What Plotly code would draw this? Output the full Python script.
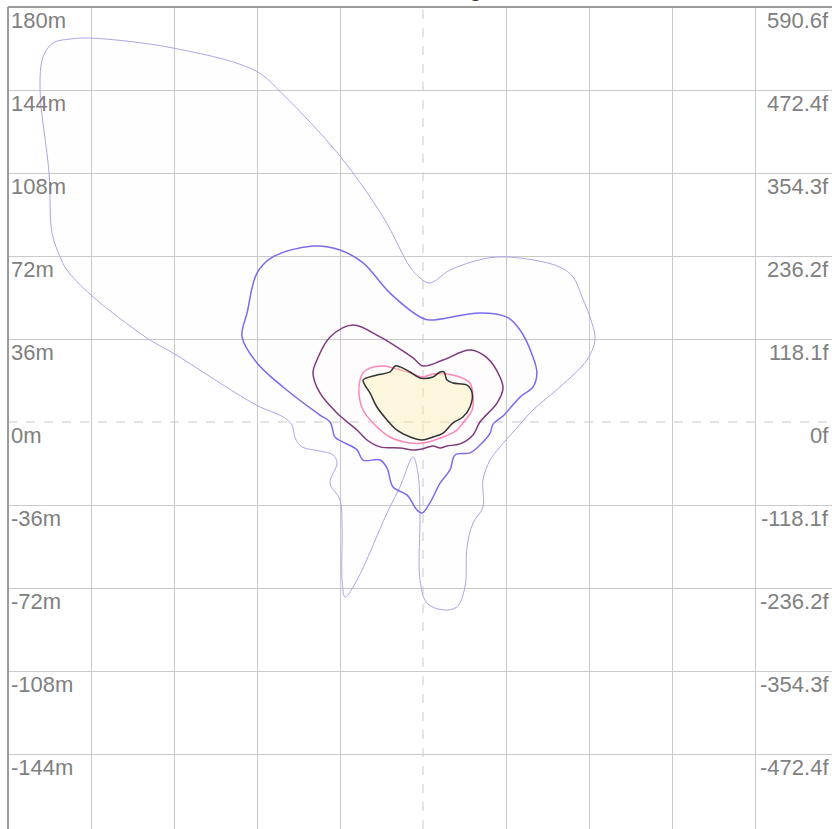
import plotly.graph_objects as go

# Axis ticks (meters) and their feet equivalents
tick_m = [180, 144, 108, 72, 36, 0, -36, -72, -108, -144]
tick_m_labels = ["180m", "144m", "108m", "72m", "36m", "0m", "-36m", "-72m", "-108m", "-144m"]
tick_f_labels = ["590.6f", "472.4f", "354.3f", "236.2f", "118.1f", "0f", "-118.1f", "-236.2f", "-354.3f", "-472.4f"]
grid_vals = [-144, -108, -72, -36, 36, 72, 108, 144]

title_text = "Threat Range"

# Contour outlines (meters east / north of source)
outer_x = [-166.1, -164.8, -160.5, -153.1, -144.0, -108.4, -72.4, -60.7, -36.4, -17.3, -5.6, -1.3, 3.0, 11.7, 26.0,
           34.7, 47.7, 59.4, 65.1, 69.0, 73.3, 74.6, 71.1, 59.4, 47.7, 39.9, 33.4, 29.1, 26.0, 26.0, 21.7, 19.1,
           18.2, 14.7, 8.7, 1.7, -1.3, -1.3, -2.2, -4.3, -10.0, -15.6, -28.6, -33.8, -35.1, -35.1, -36.0, -40.3,
           -37.3, -39.0, -44.7, -52.5, -55.5, -56.8, -60.7, -72.4, -108.4, -119.7, -144.0, -154.4, -157.4, -160.9,
           -162.2]
outer_y = [144.0, 158.3, 164.4, 166.1, 166.5, 162.2, 152.2, 142.0, 115.8, 88.9, 67.2, 62.5, 60.3, 65.9, 70.7,
           71.6, 70.3, 67.2, 62.9, 54.2, 42.9, 35.6, 26.9, 15.2, 5.2, -3.5, -10.8, -16.5, -25.2, -36.9, -43.8, -54.2,
           -71.6, -80.2, -81.5, -78.5, -68.5, -39.5, -22.1, -15.2, -28.2, -39.5, -68.5, -75.9, -68.5, -46.8, -33.8,
           -26.5, -17.8, -14.3, -12.6, -10.8, -6.9, -1.3, 2.2, 7.4, 29.9, 36.4, 55.1, 65.9, 71.6, 82.0,
           108.0]

blue_x = [-78.5, -76.3, -72.0, -65.1, -47.7, -36.0, -26.0, -14.3, -0.4, 3.0, 24.7, 36.4, 42.1, 47.7, 49.4, 47.7,
          42.1, 34.7, 30.4, 29.1, 24.7, 20.4, 13.9, 11.7, 7.4, 3.0, -0.4, -2.6, -6.9, -13.0, -15.6, -18.6, -26.0,
          -28.6, -34.7, -38.2, -40.3, -44.7, -60.7, -72.0]
blue_y = [36.9, 47.3, 64.6, 71.6, 76.3, 74.6, 69.0, 55.9, 45.1, 44.2, 47.3, 45.5, 39.9, 28.2, 21.3, 15.2,
          10.8, 2.6, -0.9, -4.8, -10.0, -13.4, -14.3, -20.8, -26.5, -35.1, -39.5, -38.2, -31.7, -28.2, -20.0, -16.5,
          -16.5, -12.1, -8.7, -6.5, 0.0, 3.0, 15.2, 25.6]

purple_x = [-47.7, -46.0, -40.3, -30.4, -18.6, -11.3, -4.3, 0.0, 8.7, 20.4, 27.8, 33.4, 34.7, 32.1, 24.7, 21.7,
            16.0, 10.4, 7.4, 4.3, -0.4, -4.3, -10.0, -18.6, -24.3, -28.6, -37.3, -44.7]
purple_y = [21.3, 26.9, 36.9, 42.1, 36.9, 32.5, 27.8, 24.3, 26.9, 31.2, 27.8, 19.5, 14.7, 8.2, 0.0, -5.6,
            -9.5, -10.4, -11.3, -10.4, -11.7, -12.1, -11.3, -10.8, -7.8, -3.5, 3.9, 12.6]

pink_x = [-27.3, -26.0, -23.0, -17.3, -13.0, -5.6, -0.4, 4.3, 10.4, 16.0, 20.4, 21.7, 21.3, 17.3, 14.7, 8.7,
          0.0, -5.6, -14.3, -21.7, -26.0, -27.8]
pink_y = [18.2, 21.3, 23.4, 24.3, 23.4, 21.3, 19.5, 20.8, 20.8, 19.5, 16.9, 10.8, 5.2, -0.4, -3.5, -6.5,
          -9.1, -9.1, -6.5, -0.4, 5.2, 12.6]

core_x = [-26.0, -20.0, -14.3, -12.1, -10.0, -5.6, -1.3, 4.3, 7.4, 9.1, 10.4, 13.0, 19.1, 21.3, 20.4, 17.3,
          13.0, 8.7, 4.3, -0.4, -5.6, -11.3, -15.6, -20.0, -23.0, -25.2]
core_y = [18.2, 20.4, 21.7, 24.3, 23.9, 21.7, 19.1, 19.5, 21.7, 21.7, 18.2, 16.9, 16.0, 12.6, 6.5, 2.2,
          -0.4, -4.8, -6.5, -7.8, -6.5, -3.5, 0.9, 6.5, 12.6, 16.0]

zones = [
    (outer_x, outer_y, "#aca5e6", "rgba(215,210,250,0.03)", 1.0),
    (blue_x, blue_y, "#7b6cec", "rgba(255,230,215,0.035)", 1.5),
    (purple_x, purple_y, "#7d3a7c", "rgba(255,230,215,0.035)", 1.5),
    (pink_x, pink_y, "#ff86b8", "rgba(255,232,222,0.05)", 1.5),
    (core_x, core_y, "#333333", "rgba(250,240,165,0.36)", 1.5),
]

fig = go.Figure()
for xs, ys, lc, fc, lw in zones:
    fig.add_trace(go.Scatter(
        x=xs + xs[:1], y=ys + ys[:1], mode="lines", fill="toself", fillcolor=fc,
        line=dict(color=lc, width=lw, shape="spline", smoothing=1.0),
        hoverinfo="skip", showlegend=False))

W, H = 832, 829
ML, MT = 8, 7
px_per_m = 83.0 / 36.0
xr = [-180, -180 + (W - ML) / px_per_m]
yr = [180 - (H - MT) / px_per_m, 180]

fig.update_layout(
    width=W, height=H,
    margin=dict(l=ML, r=0, t=MT, b=0, pad=0),
    paper_bgcolor="white", plot_bgcolor="white",
    showlegend=False,
    xaxis=dict(range=xr, tickvals=grid_vals, showticklabels=False, showgrid=True,
               gridcolor="#c9c9c9", gridwidth=1, zeroline=False, showline=False,
               ticks="", fixedrange=True),
    yaxis=dict(range=yr, tickvals=grid_vals, showticklabels=False, showgrid=True,
               gridcolor="#c9c9c9", gridwidth=1, zeroline=False, showline=False,
               ticks="", fixedrange=True),
)

# dashed centre lines
fig.add_shape(type="line", xref="x", yref="paper", x0=0, x1=0, y0=0, y1=1,
              line=dict(color="#c9c9c9", width=1, dash="dash"), layer="below")
fig.add_shape(type="line", xref="paper", yref="y", x0=0, x1=1, y0=0, y1=0,
              line=dict(color="#c9c9c9", width=1, dash="dash"), layer="below")
# plot frame (left and top edges)
fig.add_shape(type="line", xref="paper", yref="paper", x0=0, x1=0, y0=0, y1=1,
              line=dict(color="#9a9a9a", width=2), layer="above")
fig.add_shape(type="line", xref="paper", yref="paper", x0=0, x1=1, y0=1, y1=1,
              line=dict(color="#9a9a9a", width=2), layer="above")

lab_font = dict(family="Liberation Sans, Arial, sans-serif", size=22, color="#808080")
for v, lm, lf in zip(tick_m, tick_m_labels, tick_f_labels):
    fig.add_annotation(x=0, xref="paper", y=v, yref="y", text=lm, showarrow=False,
                       xanchor="left", yanchor="top", xshift=1, yshift=1, font=lab_font)
    fig.add_annotation(x=1, xref="paper", y=v, yref="y", text=lf, showarrow=False,
                       xanchor="right", yanchor="top", xshift=-1, yshift=1, font=lab_font)

fig.add_annotation(x=(429 - ML) / (W - ML), xref="paper", y=1, yref="paper",
                   text="<b>" + title_text + "</b>",
                   showarrow=False, xanchor="center", yanchor="bottom", yshift=4,
                   font=dict(family="Liberation Sans, Arial, sans-serif", size=20, color="#333333"))

fig.write_html("out.html", config={"displayModeBar": False},
               post_script="document.body.style.margin='0';document.body.style.overflow='hidden';")
